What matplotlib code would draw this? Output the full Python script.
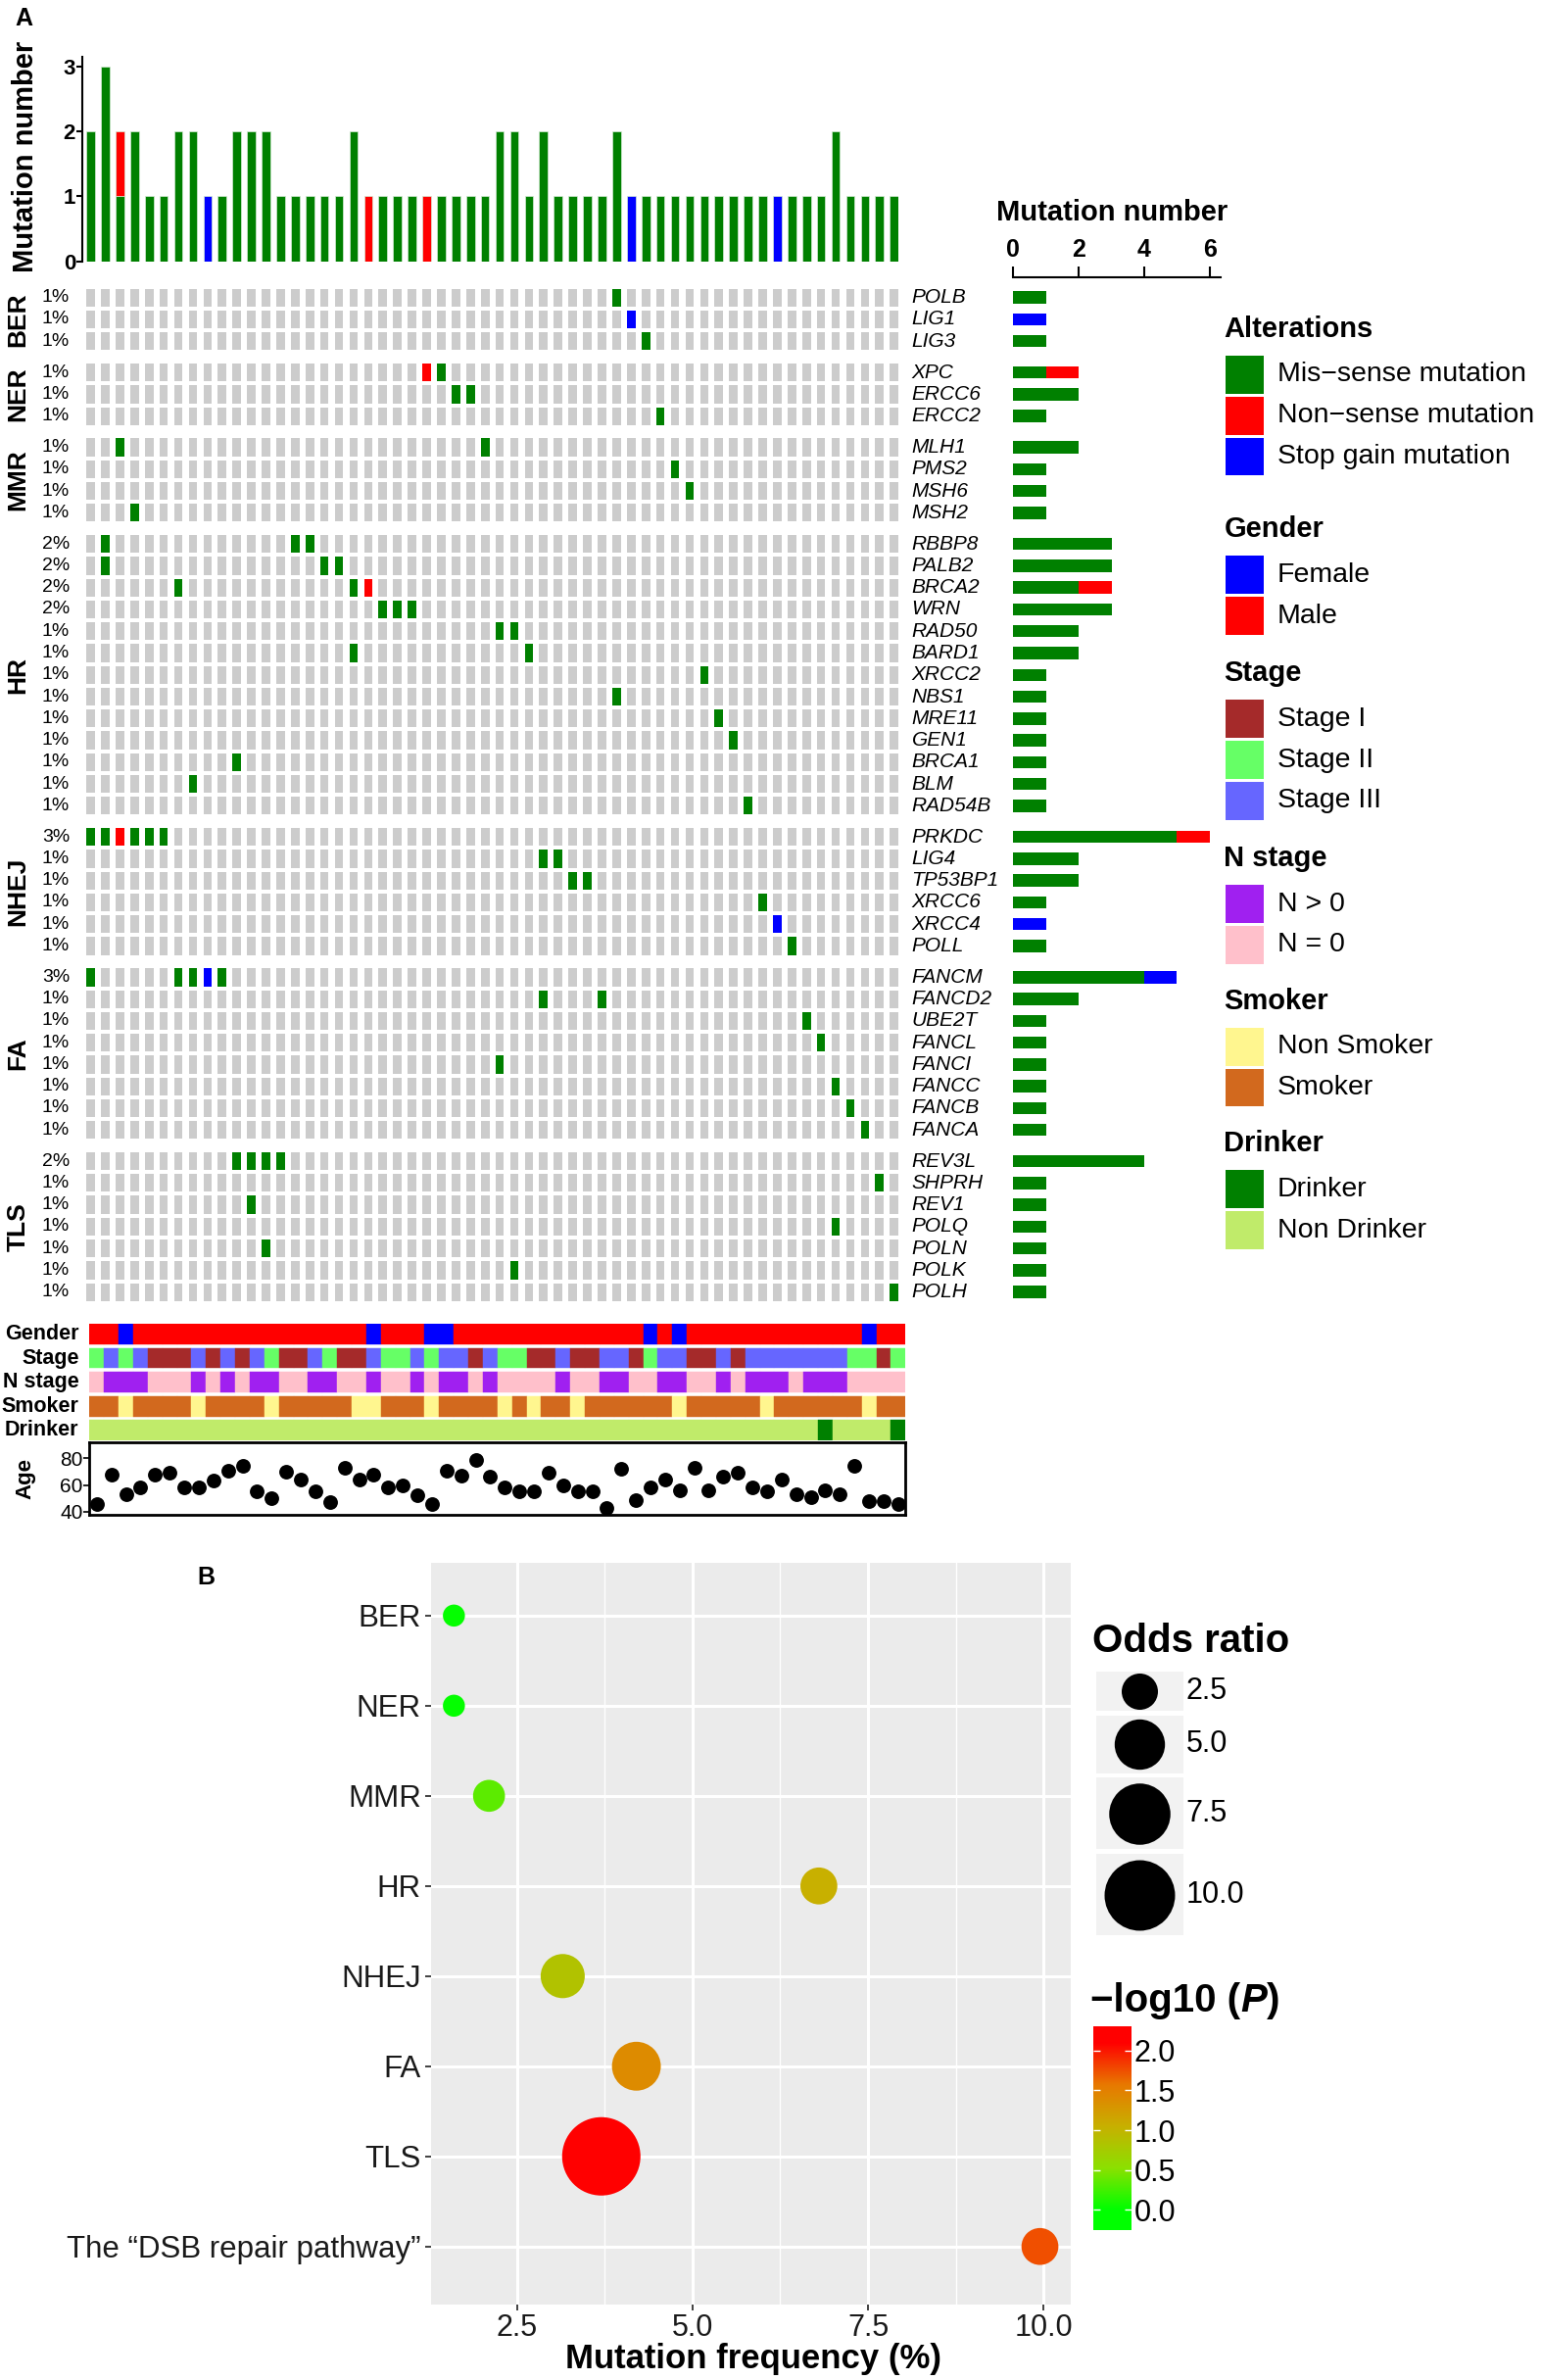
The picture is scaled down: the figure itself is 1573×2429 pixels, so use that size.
import numpy as np
import matplotlib
matplotlib.use('Agg')
import matplotlib.pyplot as plt
from matplotlib.patches import Rectangle
from matplotlib.colors import LinearSegmentedColormap, Normalize
from matplotlib.offsetbox import TextArea, HPacker, AnnotationBbox
from matplotlib.transforms import blended_transform_factory

plt.rcParams['font.family'] = ['Liberation Sans', 'DejaVu Sans']

# ---------------- panel A data ----------------
pathways = ['BER', 'NER', 'MMR', 'HR', 'NHEJ', 'FA', 'TLS']
pathway_genes = [
    ['POLB', 'LIG1', 'LIG3'],
    ['XPC', 'ERCC6', 'ERCC2'],
    ['MLH1', 'PMS2', 'MSH6', 'MSH2'],
    ['RBBP8', 'PALB2', 'BRCA2', 'WRN', 'RAD50', 'BARD1', 'XRCC2', 'NBS1',
     'MRE11', 'GEN1', 'BRCA1', 'BLM', 'RAD54B'],
    ['PRKDC', 'LIG4', 'TP53BP1', 'XRCC6', 'XRCC4', 'POLL'],
    ['FANCM', 'FANCD2', 'UBE2T', 'FANCL', 'FANCI', 'FANCC', 'FANCB', 'FANCA'],
    ['REV3L', 'SHPRH', 'REV1', 'POLQ', 'POLN', 'POLK', 'POLH'],
]
pct_labels = (['1%'] * 3 + ['1%'] * 3 + ['1%'] * 4
              + ['2%'] * 4 + ['1%'] * 9
              + ['3%'] + ['1%'] * 5
              + ['3%'] + ['1%'] * 7
              + ['2%'] + ['1%'] * 6)

# (sample number, alteration type) per gene
alterations = {
    'POLB': [(37, 'mis')],
    'LIG1': [(38, 'stop')],
    'LIG3': [(39, 'mis')],
    'XPC': [(24, 'non'), (25, 'mis')],
    'ERCC6': [(26, 'mis'), (27, 'mis')],
    'ERCC2': [(40, 'mis')],
    'MLH1': [(3, 'mis'), (28, 'mis')],
    'PMS2': [(41, 'mis')],
    'MSH6': [(42, 'mis')],
    'MSH2': [(4, 'mis')],
    'RBBP8': [(2, 'mis'), (15, 'mis'), (16, 'mis')],
    'PALB2': [(2, 'mis'), (17, 'mis'), (18, 'mis')],
    'BRCA2': [(7, 'mis'), (19, 'mis'), (20, 'non')],
    'WRN': [(21, 'mis'), (22, 'mis'), (23, 'mis')],
    'RAD50': [(29, 'mis'), (30, 'mis')],
    'BARD1': [(19, 'mis'), (31, 'mis')],
    'XRCC2': [(43, 'mis')],
    'NBS1': [(37, 'mis')],
    'MRE11': [(44, 'mis')],
    'GEN1': [(45, 'mis')],
    'BRCA1': [(11, 'mis')],
    'BLM': [(8, 'mis')],
    'RAD54B': [(46, 'mis')],
    'PRKDC': [(1, 'mis'), (2, 'mis'), (3, 'non'), (4, 'mis'), (5, 'mis'), (6, 'mis')],
    'LIG4': [(32, 'mis'), (33, 'mis')],
    'TP53BP1': [(34, 'mis'), (35, 'mis')],
    'XRCC6': [(47, 'mis')],
    'XRCC4': [(48, 'stop')],
    'POLL': [(49, 'mis')],
    'FANCM': [(1, 'mis'), (7, 'mis'), (8, 'mis'), (9, 'stop'), (10, 'mis')],
    'FANCD2': [(32, 'mis'), (36, 'mis')],
    'UBE2T': [(50, 'mis')],
    'FANCL': [(51, 'mis')],
    'FANCI': [(29, 'mis')],
    'FANCC': [(52, 'mis')],
    'FANCB': [(53, 'mis')],
    'FANCA': [(54, 'mis')],
    'REV3L': [(11, 'mis'), (12, 'mis'), (13, 'mis'), (14, 'mis')],
    'SHPRH': [(55, 'mis')],
    'REV1': [(12, 'mis')],
    'POLQ': [(52, 'mis')],
    'POLN': [(13, 'mis')],
    'POLK': [(30, 'mis')],
    'POLH': [(56, 'mis')],
}

female_samples = [3, 20, 24, 25, 39, 41, 54]
stage = [2, 3, 2, 3, 1, 1, 1, 3, 1, 3,
         1, 3, 2, 1, 1, 3, 2, 1, 1, 3,
         2, 2, 3, 2, 3, 3, 1, 3, 2, 2,
         1, 1, 3, 1, 1, 3, 3, 1, 2, 3,
         3, 1, 1, 3, 1, 3, 3, 3, 3, 3,
         3, 3, 2, 2, 1, 2]
n_positive = [0, 1, 1, 1, 0, 0, 0, 1, 0, 1,
              0, 1, 1, 0, 0, 1, 1, 0, 0, 1,
              0, 0, 1, 0, 1, 1, 0, 1, 0, 0,
              0, 0, 1, 0, 0, 1, 1, 0, 0, 1,
              1, 0, 0, 1, 0, 1, 1, 1, 0, 1,
              1, 1, 0, 0, 0, 0]
smoker = [1, 1, 0, 1, 1, 1, 1, 0, 1, 1,
          1, 1, 0, 1, 1, 1, 1, 1, 0, 0,
          1, 1, 1, 0, 1, 1, 1, 1, 0, 1,
          0, 1, 1, 0, 1, 1, 1, 1, 1, 1,
          0, 1, 1, 1, 1, 1, 0, 1, 1, 1,
          1, 1, 1, 0, 1, 1]
drinker_samples = [51, 56]
age = [46, 68, 53, 58, 68, 69, 58, 58, 63, 71,
       74, 55, 50, 70, 64, 55, 47, 73, 64, 68,
       58, 60, 52, 46, 71, 67, 79, 66, 58, 55,
       55, 69, 60, 55, 55, 43, 72, 49, 58, 64,
       56, 73, 56, 66, 69, 58, 55, 64, 53, 51,
       56, 53, 74, 48, 48, 46]

alt_types = ['mis', 'non', 'stop']
alt_names = ['Mis\u2212sense mutation', 'Non\u2212sense mutation', 'Stop gain mutation']
alt_colors = ['#008000', '#FF0000', '#0000FF']
gender_colors = ['#0000FF', '#FF0000']
stage_colors = ['#A52A2A', '#66FF66', '#6666FF']
nstage_colors = ['#A020F0', '#FFC0CB']
smoker_colors = ['#FFF68F', '#D2691E']
drinker_colors = ['#008000', '#C0EB6A']

# ---------------- panel B data ----------------
b_paths = ['BER', 'NER', 'MMR', 'HR', 'NHEJ', 'FA', 'TLS',
           'The \u201cDSB repair pathway\u201d']
mut_freq = [1.6, 1.6, 2.1, 6.8, 3.15, 4.2, 3.7, 9.95]
odds_ratio = [0.8, 0.8, 1.9, 2.6, 3.8, 4.7, 12.4, 2.6]
neglog_p = [0.02, 0.02, 0.35, 1.05, 0.85, 1.4, 2.1, 1.75]

GREY = '#CCCCCC'
ALT = dict(zip(alt_types, alt_colors))
n_samples = len(age)
cols = np.arange(n_samples)
genes = [g for grp in pathway_genes for g in grp]

# layout in a 1016 x 1569 reference frame
W, H = 1016.0, 1569.0


def rect(x0, y0, x1, y1):
    return [x0 / W, 1 - y1 / H, (x1 - x0) / W, (y1 - y0) / H]


fig = plt.figure(figsize=(15.73, 24.29), dpi=100)
ov = fig.add_axes([0, 0, 1, 1])
ov.set_xlim(0, W)
ov.set_ylim(H, 0)
ov.axis('off')
ov.set_zorder(10)

# ---- oncoprint grid ----
row_y = []
for gi, grp in enumerate(pathway_genes):
    for g in grp:
        row_y.append(len(row_y) + 0.43 * gi)
row_y = np.array(row_y)
CW, CH = 0.58, 0.82

gx = fig.add_axes(rect(57, 189, 592.3, 859))
for y in row_y:
    gx.bar(cols, CH, bottom=y - CH / 2, width=CW, color=GREY, linewidth=0)
for g, y in zip(genes, row_y):
    for s, t in alterations[g]:
        gx.bar(s - 1, CH, bottom=y - CH / 2, width=CW, color=ALT[t], linewidth=0)
gx.set_xlim(-CW / 2, n_samples - 1 + CW / 2)
gx.set_ylim(row_y[-1] + 0.5, -0.5)
gx.axis('off')

tr = blended_transform_factory(ov.transData, gx.transData)
for g, y, p in zip(genes, row_y, pct_labels):
    ov.text(46, y, p, transform=tr, ha='right', va='center', fontsize=14)
    ov.text(601, y, g, transform=tr, ha='left', va='center', fontsize=15,
            style='italic')
start = 0
for name, grp in zip(pathways, pathway_genes):
    yc = (row_y[start] + row_y[start + len(grp) - 1]) / 2
    ov.text(12, yc, name, transform=tr, rotation=90, ha='center', va='center',
            fontsize=19, fontweight='bold')
    start += len(grp)

# ---- top bar chart: mutations per sample ----
counts = {t: np.zeros(n_samples) for t in alt_types}
for g in genes:
    for s, t in alterations[g]:
        counts[t][s - 1] += 1

tx = fig.add_axes(rect(54.3, 37.7, 592.3, 172.3))
base = np.zeros(n_samples)
for t in alt_types:
    m = counts[t] > 0
    tx.bar(cols[m], counts[t][m], bottom=base[m], width=CW, color=ALT[t],
           edgecolor='#D5EBD5', linewidth=0.5)
    base += counts[t]
tx.set_xlim(-0.57, n_samples - 1 + CW / 2)
tx.set_ylim(0, 3.14)
for sp in ['top', 'right', 'bottom']:
    tx.spines[sp].set_visible(False)
tx.spines['left'].set_linewidth(1.5)
tx.set_xticks([])
tx.set_yticks([0, 1, 2, 3])
tx.tick_params(axis='y', length=4, width=1.5, labelsize=16, pad=1)
for lab in tx.get_yticklabels():
    lab.set_fontweight('bold')
ov.text(17, 103, 'Mutation number', rotation=90, ha='center', va='center',
        fontsize=21, fontweight='bold')

# ---- right bar chart: mutations per gene ----
rx = fig.add_axes(rect(668, 189, 805, 859))
left = np.zeros(len(genes))
for t in alt_types:
    w = np.array([sum(1 for s, tt in alterations[g] if tt == t) for g in genes])
    m = w > 0
    rx.barh(row_y[m], w[m], left=left[m], height=0.56, color=ALT[t], linewidth=0)
    left += w
rx.set_xlim(0, 6.34)
rx.set_ylim(gx.get_ylim())
rx.axis('off')

ax2 = fig.add_axes(rect(668, 182.5, 805, 184))
ax2.set_xlim(0, 6.34)
ax2.xaxis.tick_top()
ax2.set_xticks([0, 2, 4, 6])
ax2.tick_params(axis='x', direction='out', length=8, width=1.5, labelsize=18, pad=3)
for lab in ax2.get_xticklabels():
    lab.set_fontweight('bold')
for sp in ['bottom', 'left', 'right']:
    ax2.spines[sp].set_visible(False)
ax2.spines['top'].set_linewidth(1.5)
ax2.set_yticks([])
ax2.patch.set_alpha(0)
ov.text(733, 140, 'Mutation number', ha='center', va='center', fontsize=21,
        fontweight='bold')

# ---- clinical tracks ----
track_names = ['Gender', 'Stage', 'N stage', 'Smoker', 'Drinker']
track_colors = [
    [gender_colors[0] if s in female_samples else gender_colors[1] for s in cols + 1],
    [stage_colors[v - 1] for v in stage],
    [nstage_colors[0] if v else nstage_colors[1] for v in n_positive],
    [smoker_colors[1] if v else smoker_colors[0] for v in smoker],
    [drinker_colors[0] if s in drinker_samples else drinker_colors[1] for s in cols + 1],
]
TH = 0.845
kx = fig.add_axes(rect(59, 872.8, 597, 949.6))
for i, colors in enumerate(track_colors):
    kx.bar(cols, TH, bottom=i, width=1.0, color=colors, edgecolor=colors,
           linewidth=0.3)
kx.set_xlim(-0.5, n_samples - 0.5)
kx.set_ylim(len(track_names) - 1 + TH, 0)
kx.axis('off')
trk = blended_transform_factory(ov.transData, kx.transData)
for i, name in enumerate(track_names):
    ov.text(52, i + TH / 2, name, transform=trk, ha='right', va='center',
            fontsize=15.5, fontweight='bold')

# ---- age ----
ax_age = fig.add_axes(rect(59, 951.1, 597, 998.9))
ax_age.scatter(cols, age, s=115, color='black', linewidths=0, zorder=3)
ax_age.set_xlim(-0.5, n_samples - 0.5)
ax_age.set_ylim(37.4, 91.6)
ax_age.set_xticks([])
ax_age.set_yticks([40, 60, 80])
ax_age.tick_params(axis='y', labelsize=15, length=4, width=1.2, pad=1)
for sp in ax_age.spines.values():
    sp.set_linewidth(2)
ov.text(17, 975, 'Age', rotation=90, ha='center', va='center', fontsize=16,
        fontweight='bold')

# ---- legend panel A ----
legend_blocks = [
    ('Alterations', alt_names, alt_colors),
    ('Gender', ['Female', 'Male'], gender_colors),
    ('Stage', ['Stage I', 'Stage II', 'Stage III'], stage_colors),
    ('N stage', ['N > 0', 'N = 0'], nstage_colors),
    ('Smoker', ['Non Smoker', 'Smoker'], smoker_colors),
    ('Drinker', ['Drinker', 'Non Drinker'], drinker_colors),
]
title_y = [217, 349, 444, 566, 660, 754]
for (title, labels, colors), ty in zip(legend_blocks, title_y):
    ov.text(807, ty, title, fontsize=21, fontweight='bold', ha='left', va='center')
    for j, (lab, c) in enumerate(zip(labels, colors)):
        yc = ty + 30 + 27 * j
        ov.add_patch(Rectangle((808, yc - 12.5), 25, 25, color=c, linewidth=0))
        ov.text(842, yc, lab, fontsize=20.5, ha='left', va='center')

ov.text(10, 12, 'A', fontsize=18, fontweight='bold', ha='left', va='center')
ov.text(136, 1040, 'B', fontsize=18, fontweight='bold', ha='center', va='center')

# ---------------- panel B ----------------
cmap = LinearSegmentedColormap.from_list(
    'pval', [(0, '#00FF00'), (0.25, '#8CE000'), (0.5, '#C8B000'),
             (0.75, '#E87800'), (1, '#FF0000')])
norm = Normalize(0, 2.1)


def or_size(v):
    return 0.5184 * (99 + 508 * np.asarray(v))


ypos = np.arange(len(b_paths))
bx = fig.add_axes(rect(284, 1030, 706, 1519))
bx.set_facecolor('#EBEBEB')
bx.scatter(mut_freq, ypos, s=or_size(odds_ratio), c=neglog_p, cmap=cmap,
           norm=norm, linewidths=0, zorder=3)
bx.set_xlim(1.27, 10.39)
bx.set_ylim(len(b_paths) - 1 + 0.64, -0.59)
bx.set_xticks([2.5, 5.0, 7.5, 10.0])
bx.set_xticklabels(['2.5', '5.0', '7.5', '10.0'])
bx.set_xticks([3.75, 6.25, 8.75], minor=True)
bx.set_yticks(ypos)
bx.set_yticklabels(b_paths)
bx.grid(which='major', color='white', linewidth=2.2)
bx.grid(which='minor', axis='x', color='white', linewidth=1.0)
bx.set_axisbelow(True)
for sp in bx.spines.values():
    sp.set_visible(False)
bx.tick_params(which='major', length=4, width=1.3, color='#333333',
               labelsize=22.5, labelcolor='#1A1A1A', pad=3)
bx.tick_params(axis='x', which='major', labelsize=22)
bx.tick_params(which='minor', length=0)
ov.text(497, 1555, 'Mutation frequency (%)', ha='center', va='center',
        fontsize=25, fontweight='bold')

# odds ratio legend
ov.text(720, 1082, 'Odds ratio', fontsize=29, fontweight='bold', ha='left', va='center')
key_vals = [2.5, 5.0, 7.5, 10.0]
key_spans = [(1102, 1128), (1131, 1169), (1172, 1219), (1222, 1276)]
for v, (k0, k1) in zip(key_vals, key_spans):
    ov.add_patch(Rectangle((723, k0), 57, k1 - k0, color='#F2F2F2', linewidth=0))
    ov.scatter([751.5], [(k0 + k1) / 2], s=or_size(v), color='black', linewidths=0)
    ov.text(782, (k0 + k1) / 2, '%.1f' % v, fontsize=22, ha='left', va='center')

# p-value colourbar
cax = fig.add_axes(rect(721, 1336, 746, 1470))
grad = np.linspace(-0.25, 2.3, 256)
cax.imshow(grad[:, None], extent=[0, 1, -0.25, 2.3], origin='lower',
           aspect='auto', cmap=cmap, norm=norm)
cax.set_xlim(0, 1)
cax.set_ylim(-0.25, 2.3)
cax.set_xticks([])
cax.set_yticks([0, 0.5, 1.0, 1.5, 2.0])
cax.set_yticklabels(['0.0', '0.5', '1.0', '1.5', '2.0'])
cax.yaxis.set_ticks_position('both')
cax.tick_params(axis='y', direction='in', length=5, width=1, color='white',
                labelleft=False, labelright=True, labelsize=22, pad=2)
for sp in cax.spines.values():
    sp.set_visible(False)

parts = [TextArea('\u2212log10 (', textprops=dict(fontsize=29, fontweight='bold')),
         TextArea('P', textprops=dict(fontsize=29, fontweight='bold', style='italic')),
         TextArea(')', textprops=dict(fontsize=29, fontweight='bold'))]
title_box = HPacker(children=parts, align='baseline', pad=0, sep=0)
ov.add_artist(AnnotationBbox(title_box, (719, 1319), xycoords='data',
                             box_alignment=(0, 0.5), frameon=False, pad=0))

fig.savefig('out.png', dpi=100)
